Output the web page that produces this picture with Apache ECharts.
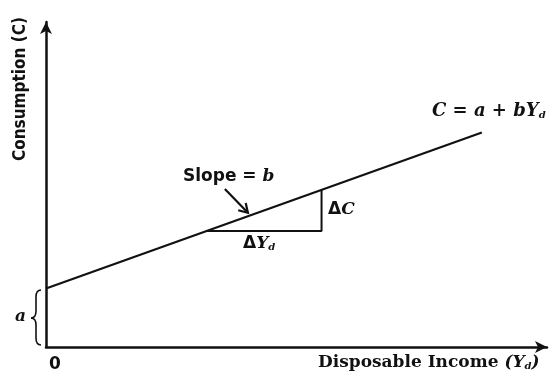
<!DOCTYPE html>
<html><head><meta charset="utf-8">
<script src="https://cdn.jsdelivr.net/npm/echarts@6/dist/echarts.min.js"></script>
<style>html,body{margin:0;padding:0;background:#fff}#c{width:553px;height:376px}</style>
</head><body><div id="c"></div>
<script>
// Consumption function: C = a + b*Yd (schematic values)
const consLine = [[0, 18], [87, 66]];
const triangle = [[32, 35.7], [55, 35.7], [55, 48.3]];
const slopeArrow = [[35.7, 48.6], [40.3, 41.3]];
const xRange = [0, 100];
const yRange = [0, 100];

const chart = echarts.init(document.getElementById('c'));
const serif = '"DejaVu Serif", "Liberation Serif", serif';
const sans = '"DejaVu Sans", sans-serif';
chart.setOption({
  animation: false,
  grid: { left: 46, top: 22, right: 6, bottom: 29 },
  xAxis: {
    type: 'value', min: xRange[0], max: xRange[1],
    axisLine: { lineStyle: { color: '#111', width: 2.5 }, symbol: ['none', 'arrow'], symbolSize: [9, 12] },
    axisTick: { show: false }, axisLabel: { show: false }, splitLine: { show: false }
  },
  yAxis: {
    type: 'value', min: yRange[0], max: yRange[1],
    axisLine: { lineStyle: { color: '#111', width: 2.5 }, symbol: ['none', 'arrow'], symbolSize: [9, 12] },
    axisTick: { show: false }, axisLabel: { show: false }, splitLine: { show: false }
  },
  series: [
    { type: 'line', data: consLine, symbol: 'none', lineStyle: { color: '#111', width: 2.2 } },
    { type: 'line', data: triangle, symbol: 'none', lineStyle: { color: '#111', width: 2 } },
    { type: 'line', data: slopeArrow, symbol: 'none', lineStyle: { color: '#111', width: 2.2 } }
  ]
});

// arrow head for slope pointer, derived from data via convertToPixel
const p1 = chart.convertToPixel({ gridIndex: 0 }, slopeArrow[0]);
const p2 = chart.convertToPixel({ gridIndex: 0 }, slopeArrow[1]);
const ang = Math.atan2(p2[1] - p1[1], p2[0] - p1[0]);
const L = 10, W = 0.55;
const h1 = [p2[0] - L * Math.cos(ang - W), p2[1] - L * Math.sin(ang - W)];
const h2 = [p2[0] - L * Math.cos(ang + W), p2[1] - L * Math.sin(ang + W)];

const mk = (fam, size, italic) => ({ fontFamily: fam, fontWeight: 'bold', fontStyle: italic ? 'italic' : 'normal', fontSize: size, fill: '#111' });
const sub = (size, pad) => ({ fontFamily: serif, fontWeight: 'bold', fontStyle: 'italic', fontSize: size, fill: '#111', padding: [pad, 0, 0, 0] });
const braceStyle = { stroke: '#111', lineWidth: 1.6, fill: null };
const bz = (x1, y1, cx, cy, x2, y2) => ({ type: 'bezierCurve', shape: { x1, y1, x2, y2, cpx1: cx, cpy1: cy }, style: braceStyle });

chart.setOption({
  graphic: [
    { type: 'polyline', shape: { points: [h1, p2, h2] }, style: { stroke: '#111', lineWidth: 2.2, fill: null } },
    // brace for a
    bz(41, 290, 36, 290, 36, 297),
    { type: 'line', shape: { x1: 36, y1: 297, x2: 36, y2: 311 }, style: braceStyle },
    bz(36, 311, 36, 318, 31, 318),
    bz(31, 318, 36, 318, 36, 325),
    { type: 'line', shape: { x1: 36, y1: 325, x2: 36, y2: 338 }, style: braceStyle },
    bz(36, 338, 36, 345, 41, 345),
    { type: 'text', left: 15, top: 308, style: { text: '{i|a}', rich: { i: mk(serif, 17, true) } } },
    { type: 'text', left: 49, top: 356, style: { text: '0', font: 'bold 17px ' + sans, fill: '#111' } },
    { type: 'text', left: 432, top: 102, style: { text: '{i|C = a + bY}{s|d}', rich: { i: mk(serif, 18, true), s: sub(10, 9) } } },
    { type: 'text', left: 183, top: 168, style: { text: '{n|Slope = }{i|b}', rich: { n: mk(sans, 17, false), i: mk(serif, 17, true) } } },
    { type: 'text', left: 328, top: 201, style: { text: '{n|Δ}{i|C}', rich: { n: mk(sans, 17, false), i: mk(serif, 17, true) } } },
    { type: 'text', left: 243, top: 235, style: { text: '{n|Δ}{i|Y}{s|d}', rich: { n: mk(sans, 17, false), i: mk(serif, 17, true), s: sub(10, 8) } } },
    { type: 'text', left: 318, top: 354, style: { text: '{n|Disposable Income }{i|(Y}{s|d}{i|)}', rich: {
        n: mk(serif, 17, false), i: mk(serif, 17, true), s: sub(10, 8) } } },
    { type: 'text', x: 12, y: 161, rotation: Math.PI / 2, style: { text: 'Consumption (C)',
        font: 'bold 17px "DejaVu Sans Condensed", "Liberation Sans Narrow", sans-serif', fill: '#111' } }
  ]
});
</script></body></html>
